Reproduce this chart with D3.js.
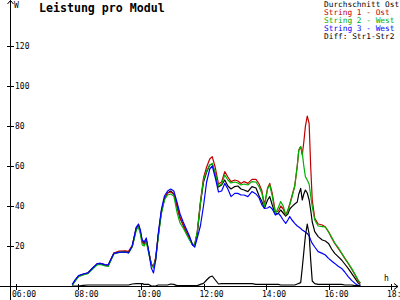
<!DOCTYPE html>
<html>
<head>
<meta charset="utf-8">
<script src="https://cdn.jsdelivr.net/npm/d3@7"></script>
<style>
  html, body { margin: 0; padding: 0; background: #fff; }
  svg { display: block; }
  text { font-family: "DejaVu Sans Mono", "Liberation Mono", monospace; }
</style>
</head>
<body>
<svg id="chart"></svg>
<script>
// time of day in hours
const times = [
  7.80, 7.90, 8.00, 8.15, 8.30, 8.45, 8.60, 8.70, 8.85, 8.95,
  9.13, 9.30, 9.50, 9.60, 9.72, 9.85, 9.92, 9.98, 10.04, 10.10,
  10.17, 10.25, 10.33, 10.40, 10.47, 10.55, 10.65, 10.75, 10.85, 10.95,
  11.05, 11.15, 11.25, 11.35, 11.45, 11.55, 11.65, 11.72, 11.80, 11.90,
  12.00, 12.10, 12.20, 12.28, 12.38, 12.48, 12.58, 12.68, 12.78, 12.88,
  13.00, 13.10, 13.20, 13.30, 13.42, 13.55, 13.68, 13.78, 13.87, 13.95,
  14.05, 14.12, 14.20, 14.30, 14.40, 14.47, 14.55, 14.63, 14.70, 14.76,
  14.83, 14.92, 15.00, 15.05, 15.11, 15.16, 15.21, 15.26, 15.32, 15.38,
  15.43, 15.48, 15.56, 15.67, 15.80, 15.90, 16.00, 16.10, 16.20, 16.30,
  16.42, 16.52, 16.63, 16.74, 16.85, 16.95, 17.02
];

// Durchschnitt Ost (black)
const average = [
  0.5, 3, 5, 5.8, 6.5, 8.8, 11, 11.2, 10.5, 10.3,
  16.3, 17, 17.2, 16.8, 20, 29, 30, 27, 22, 21,
  23, 17, 11, 9.5, 14, 25, 37, 43.5, 46.5, 47.5,
  46, 40, 34, 30.5, 27, 24, 20.5, 20.5, 26, 41,
  52, 57, 60.5, 61, 56, 49.5, 50.5, 53, 50, 48.5,
  49.7, 50, 48.5, 48, 47.2, 49.7, 49, 45, 42.2, 38.8,
  43, 44.7, 40.5, 36, 36.5, 38, 36.5, 35, 36, 38.5,
  39.7, 41, 42, 46, 48.8, 43, 46, 48, 46.5, 43,
  38, 32, 27.2, 24.7, 23, 22.5, 21.3, 18.5, 16.3, 14.8,
  13, 11, 8.8, 6.3, 3.8, 1.5, 0.8
];

// String 1 - Ost (red)
const string1 = [
  0.5, 3, 5, 5.8, 6.5, 8.8, 11.2, 11.3, 10.6, 10.4,
  16.5, 17.5, 17.6, 17.3, 20.2, 29, 30.5, 27, 22, 21,
  23, 17, 11, 9.5, 14, 25, 37, 43.5, 46.5, 47,
  46, 40, 34, 30.5, 27, 24, 20.8, 21, 27, 42,
  54, 59.5, 63.5, 64.7, 59, 51, 52, 57.2, 54.5, 52.2,
  53, 52.5, 51.3, 52.2, 51.3, 53.3, 53.3, 51, 47.5, 40.5,
  49, 51.3, 46.3, 37, 37.5, 40, 38.5, 35.5, 38, 41,
  45, 50, 60, 68, 69.7, 65.5, 72, 79.7, 85, 81.3,
  59.7, 43, 33.8, 31, 30.5, 29.5, 27.2, 24, 21.3, 19,
  16.3, 13.8, 11.3, 8.5, 5.5, 2.5, 1.5
];

// String 2 - West (green)
const string2 = [
  0.3, 2.5, 4.6, 5.5, 6.2, 8.5, 10.6, 10.8, 10, 9.8,
  16, 16.8, 17, 16.5, 19.5, 28, 29.5, 26, 20.5, 20,
  22, 16, 10.5, 9, 13, 24, 36, 43, 45.5, 46,
  45, 37, 31.5, 29, 26, 23, 20.5, 21, 27, 41.5,
  53, 57.5, 60.5, 61.3, 56, 50, 51, 55.5, 53, 51.5,
  52, 51.5, 50.5, 51, 50.5, 52.2, 52, 49.5, 46.3, 39.7,
  48.5, 50.5, 45, 36, 39.5, 42.2, 40, 35.5, 37.5, 40.5,
  44.5, 50, 60, 68, 69.7, 66.7, 60, 54.7, 53, 51,
  45, 39.7, 33, 30, 29.7, 29.5, 27, 24.5, 21.5, 19.5,
  16.5, 14, 11.5, 8.8, 5.8, 3, 1.5
];

// String 3 - West (blue)
const string3 = [
  0.8, 3.2, 5.2, 6, 6.6, 9, 11.2, 11.3, 10.7, 10.5,
  16.3, 16.8, 17, 16.5, 20, 29.5, 31, 28, 23, 22,
  24, 17, 9, 6.5, 13, 26, 38, 45, 47.5, 48.5,
  47.5, 42, 36, 32, 28.5, 25, 20.5, 19.5, 24, 30,
  40, 52, 58.5, 60, 54, 47, 47.5, 51.3, 48.5, 44.7,
  46.3, 46.3, 45.5, 45.5, 44.7, 47.2, 46, 44, 40.5, 38.8,
  39, 39.7, 38.5, 35.5, 36.3, 35, 33, 31.3, 33, 34.7,
  33, 31.3, 30, 29.5, 28.8, 28, 27.5, 27, 26.3, 25,
  23, 21.3, 19.5, 17.2, 16.3, 15.5, 13.8, 12.5, 11.3, 10,
  8.8, 7, 4.7, 2.8, 1.3, 0.3, 0.2
];

// Diff: Str1-Str2 (black, near the axis)
const diff = [
  0, 0, 0, 0.3, 0.5, 0.5, 0.5, 0.5, 0.5, 0.5,
  0.5, 0.5, 0.5, 0.5, 1, 1.2, 1.2, 1.2, 1.2, 0.8,
  0.8, 0.8, 0, 0, 0, 0.5, 0.5, 0.5, 0.5, 1,
  0.8, 0.2, 0.2, 0.2, 0.2, 0.2, 0.2, 0.2, 0.2, 0.8,
  1.3, 3, 4.5, 5, 3, 1, 1.2, 1.2, 1.2, 1.2,
  1.2, 1.2, 1.2, 1.2, 1.2, 1.2, 0.8, 0.8, 0.8, 0.8,
  0.8, 0.8, 0.8, 0.8, 0.8, 0.5, 0.5, 0.5, 0.5, 0.5,
  0.5, 0.5, 1, 1.3, 1.7, 9, 17, 25, 31, 26,
  13, 2.5, 1.2, 0.8, 0.8, 0.8, 0.8, 0.8, 0.8, 0.8,
  0.8, 0.5, 0.5, 0.5, 0.2, 0.2, 0.2
];

const xTicks = [6, 8, 10, 12, 14, 16, 18];
const xTickLabels = ['06:00', '08:00', '10:00', '12:00', '14:00', '16:00', '18:00'];
const yTicks = [20, 40, 60, 80, 100, 120];

const legendLabels = ['Durchschnitt Ost', 'String 1 - Ost', 'String 2 - West', 'String 3 - West', 'Diff: Str1-Str2'];
const legendColors = ['#000000', '#c00000', '#00b000', '#0000ff', '#000000'];

const width = 400;
const height = 300;
const svg = d3.select('#chart').attr('width', width).attr('height', height);

// scales
const x = d3.scaleLinear().domain([6, 18]).range([16, 391]);
const y = d3.scaleLinear().domain([0, 140]).range([286, 6]);

const axisX = 10.5;
const axisY = y(0) + 0.5;

// axes
const axes = svg.append('g')
  .attr('stroke', '#000')
  .attr('fill', 'none')
  .attr('shape-rendering', 'crispEdges');

axes.append('line').attr('x1', axisX).attr('x2', axisX).attr('y1', 0).attr('y2', height);
axes.append('line').attr('x1', 0).attr('x2', 398).attr('y1', axisY).attr('y2', axisY);

// arrow heads
svg.append('path')
  .attr('d', `M${axisX - 3},4 L${axisX},0.5 L${axisX + 3},4`)
  .attr('stroke', '#000').attr('fill', 'none');
svg.append('path')
  .attr('d', `M394,${axisY - 3} L398,${axisY} L394,${axisY + 3}`)
  .attr('stroke', '#000').attr('fill', 'none');

// y ticks
axes.selectAll('.ytick')
  .data(yTicks)
  .enter()
  .append('line')
  .attr('x1', 7).attr('x2', 14)
  .attr('y1', (d) => Math.round(y(d)) + 0.5)
  .attr('y2', (d) => Math.round(y(d)) + 0.5);

svg.selectAll('.ylabel')
  .data(yTicks)
  .enter()
  .append('text')
  .attr('x', 15)
  .attr('y', (d) => y(d) + 3)
  .style('font-size', '8px')
  .text((d) => d);

// x ticks
axes.selectAll('.xtick')
  .data(xTicks)
  .enter()
  .append('line')
  .attr('x1', (d) => Math.round(x(d)) + 0.5)
  .attr('x2', (d) => Math.round(x(d)) + 0.5)
  .attr('y1', axisY - 3).attr('y2', axisY + 3);

// the last label runs off the right edge, as in the original
svg.selectAll('.xlabel')
  .data(xTicks)
  .enter()
  .append('text')
  .attr('x', (d) => x(d) - 4)
  .attr('y', 297)
  .style('font-size', '8px')
  .text((d, i) => xTickLabels[i]);

// unit labels
svg.append('text').attr('x', 14).attr('y', 8).style('font-size', '8px').text('W');
svg.append('text').attr('x', 384).attr('y', 281).style('font-size', '8px').text('h');

// title
svg.append('text')
  .attr('x', 39)
  .attr('y', 12)
  .style('font-size', '11.6px')
  .style('font-weight', 'bold')
  .text('Leistung pro Modul');

// data lines
const line = d3.line()
  .x((d, i) => x(times[i]))
  .y((d) => y(d));

const series = [
  { values: average, color: '#000000' },
  { values: string1, color: '#c00000' },
  { values: string2, color: '#00b000' },
  { values: string3, color: '#0000ff' },
  { values: diff, color: '#000000' }
];

svg.selectAll('.series')
  .data(series)
  .enter()
  .append('path')
  .attr('d', (d) => line(d.values))
  .attr('fill', 'none')
  .attr('stroke', (d) => d.color)
  .attr('stroke-width', 1.2)
  .attr('stroke-linejoin', 'round');

// legend, top right (shrunk a little so the first line fits)
svg.selectAll('.legend')
  .data(legendLabels)
  .enter()
  .append('text')
  .attr('x', 324)
  .attr('y', (d, i) => 7 + i * 7.9)
  .attr('fill', (d, i) => legendColors[i])
  .style('font-size', '7.8px')
  .text((d) => d);
</script>
</body>
</html>
